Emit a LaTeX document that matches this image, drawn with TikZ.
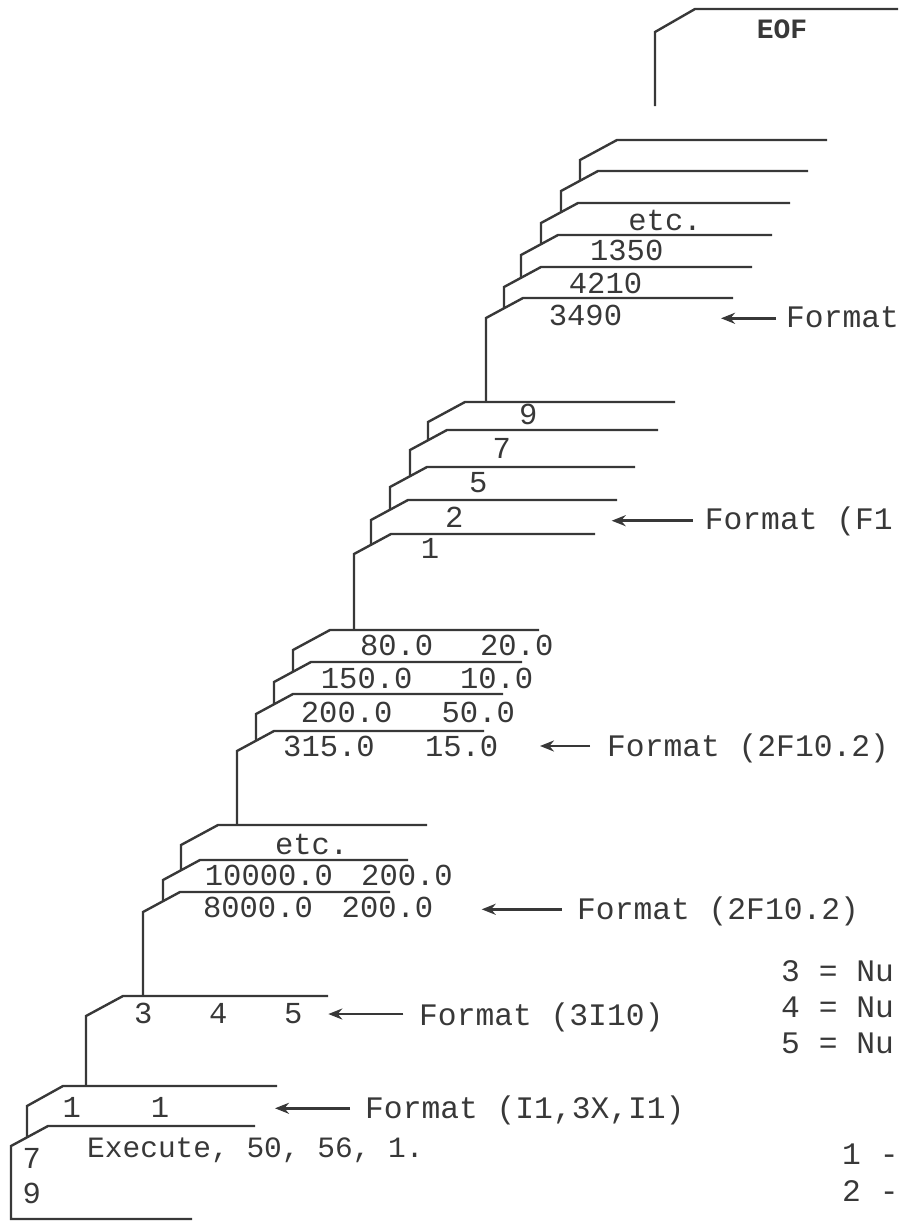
\documentclass[tikz,border=0pt]{standalone}
\usepackage{fontspec}
\newfontfamily\twfont{Liberation Mono}
\usetikzlibrary{arrows.meta}
\definecolor{ink}{gray}{0.22}
\tikzset{
  card/.style={draw=ink, line width=2.4pt, line join=miter},
  txt/.style={text=ink, inner sep=0pt, anchor=base, font=\twfont\fontsize{30.5}{36}\selectfont},
  fmt/.style={text=ink, inner sep=0pt, anchor=base west, font=\twfont\fontsize{31.3}{36}\selectfont},
  arr/.style={draw=ink, line width=2.6pt, -{Stealth[length=14pt,width=11pt]}},
}
\begin{document}
\begin{tikzpicture}[x=1pt,y=-1pt]
\useasboundingbox (0,0) rectangle (898,1221);
\clip (0,0) rectangle (898,1221);

% EOF card
\draw[card] (898,9) -- (695,9) -- (655,32) -- (655,106);
\node[txt, font=\twfont\bfseries\fontsize{28}{34}\selectfont] (eof) at (782,38) {EOF};

% top stack
\draw[card] (827,140) -- (617,140) -- (580,160) -- (580,180.7);
\draw[card] (808,171) -- (598,171) -- (561,191) -- (561,212.2);
\draw[card] (790,203) -- (578,203) -- (541,223) -- (541,244.2);
\draw[card] (772,235) -- (558,235) -- (521,255) -- (521,277.8);
\draw[card] (752,267) -- (541,267) -- (504,287) -- (504,308.3);
\draw[card] (733,298) -- (523,298) -- (486,318) -- (486,402);
\node[txt] (etcA) at (665,230) {etc.};
\node[txt] (v1350) at (626.7,260) {1350};
\node[txt] (v4210) at (605.5,293) {4210};
\node[txt] (v3490) at (585.5,325) {3490};
\node[fmt] (fmtA) at (786,327) {Format};
\coordinate (aAs) at (776,318.3);
\coordinate (aAe) at (721,318.3);
\draw[arr] (aAs) -- (aAe);

% second stack
\draw[card] (675,402) -- (465,402) -- (428,422) -- (428,440.3);
\draw[card] (658,430) -- (447,430) -- (410,450) -- (410,476.2);
\draw[card] (635,467) -- (427,467) -- (390,487) -- (390,509.7);
\draw[card] (617,500) -- (408,500) -- (371,520) -- (371,544.8);
\draw[card] (595,534) -- (391,534) -- (354,554) -- (354,630);
\node[txt] (n9) at (528.3,424) {9};
\node[txt] (n7) at (501.7,458) {7};
\node[txt] (n5) at (478.3,492) {5};
\node[txt] (n2) at (454.3,527) {2};
\node[txt] (n1) at (430,558) {1};
\node[fmt] (fmtB) at (704.7,529) {Format (F1};
\coordinate (aBs) at (692.7,520.7);
\coordinate (aBe) at (611.7,520.7);
\draw[arr] (aBs) -- (aBe);

% third stack
\draw[card] (539,630) -- (330,630) -- (293,650) -- (293,671.7);
\draw[card] (522,662) -- (311,662) -- (274,682) -- (274,704.3);
\draw[card] (503,694) -- (293,694) -- (256,714) -- (256,740.7);
\draw[card] (484,731) -- (274,731) -- (237,751) -- (237,825);
\node[txt] (c80) at (396.7,655) {80.0};
\node[txt] (c20) at (516.7,655) {20.0};
\node[txt] (c150) at (366.7,688) {150.0};
\node[txt] (c10) at (496.7,688) {10.0};
\node[txt] (c200) at (346.7,722) {200.0};
\node[txt] (c50) at (478.3,722) {50.0};
\node[txt] (c315) at (329,756) {315.0};
\node[txt] (c15) at (461.7,756) {15.0};
\node[fmt] (fmtC) at (607,756) {Format (2F10.2)};
\coordinate (aCs) at (590,746);
\coordinate (aCe) at (540,746);
\draw[arr] (aCs) -- (aCe);

% fourth stack
\draw[card] (427,825) -- (218,825) -- (181,845) -- (181,870.3);
\draw[card] (408,860) -- (200,860) -- (163,880) -- (163,901.2);
\draw[card] (390,892) -- (180,892) -- (143,912) -- (143,996);
\node[txt] (etcD) at (311.7,854) {etc.};
\node[txt] (d10000) at (269,885) {10000.0};
\node[txt] (d200a) at (407,885) {200.0};
\node[txt] (d8000) at (258,917) {8000.0};
\node[txt] (d200b) at (387.5,917) {200.0};
\node[fmt] (fmtD) at (577,919) {Format (2F10.2)};
\coordinate (aDs) at (561.7,909.3);
\coordinate (aDe) at (481.7,909.3);
\draw[arr] (aDs) -- (aDe);

% fifth stack
\draw[card] (328,996) -- (123,996) -- (86,1016) -- (86,1086);
\draw[card] (277,1086) -- (63,1086) -- (27,1106) -- (27,1137.4);
\draw[card] (255,1126) -- (48,1126) -- (11,1146) -- (11,1219) -- (192,1219);
\node[txt] (e3) at (143.3,1023) {3};
\node[txt] (e4) at (218.3,1023) {4};
\node[txt] (e5) at (293.3,1023) {5};
\node[fmt] (fmtE) at (419,1025) {Format (3I10)};
\coordinate (aEs) at (403.3,1014);
\coordinate (aEe) at (328.3,1014);
\draw[arr] (aEs) -- (aEe);

\node[txt] (f1a) at (71.7,1117) {1};
\node[txt] (f1b) at (160,1117) {1};
\node[fmt] (fmtF) at (365,1118) {Format (I1,3X,I1)};
\coordinate (aFs) at (350,1108.3);
\coordinate (aFe) at (275,1108.3);
\draw[arr] (aFs) -- (aFe);

\node[fmt, font=\twfont\fontsize{29.5}{35}\selectfont] (exe) at (87,1157) {Execute, 50, 56, 1.};
\node[txt] (g7) at (31.7,1168) {7};
\node[txt] (g9) at (31.7,1203) {9};

% legend (as far as it is shown)
\node[fmt] (L3) at (781,981) {3 = Nu};
\node[fmt] (L4) at (781,1017) {4 = Nu};
\node[fmt] (L5) at (781,1053) {5 = Nu};
\node[fmt] (M1) at (842,1164) {1 -};
\node[fmt] (M2) at (842,1201) {2 -};
\end{tikzpicture}
\end{document}
